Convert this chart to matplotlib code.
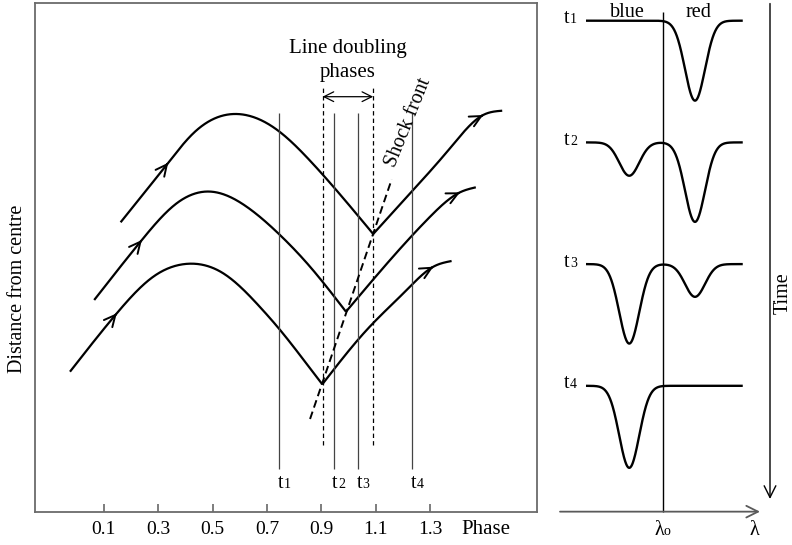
import numpy as np
import matplotlib
matplotlib.use("Agg")
import matplotlib.pyplot as plt

plt.rcParams["font.family"] = ["Liberation Serif", "DejaVu Serif"]

# ---------------- pulsation diagram data ----------------
phase_ticks = [0.1, 0.3, 0.5, 0.7, 0.9, 1.1, 1.3]
phase_tick_labels = ["0.1", "0.3", "0.5", "0.7", "0.9", "1.1", "1.3"]

# Outer shell: ballistic arc up to the shock, then pushed outward again
shell1_arc_phase = [0.162, 0.337, 0.429, 0.589, 0.741, 0.858, 1.090]
shell1_arc_dist = [28.94, 34.90, 37.84, 39.77, 38.10, 35.10, 27.77]
shell1_out_phase = [1.090, 1.237, 1.372, 1.494, 1.564]
shell1_out_dist = [27.77, 32.17, 36.34, 39.67, 40.10]

# Middle shell
shell2_arc_phase = [0.065, 0.240, 0.368, 0.497, 0.625, 0.741, 0.858, 0.990]
shell2_arc_dist = [21.17, 27.17, 30.84, 32.00, 30.50, 27.84, 24.50, 20.00]
shell2_out_phase = [0.990, 1.152, 1.299, 1.409, 1.467]
shell2_out_dist = [20.00, 25.17, 29.50, 31.94, 32.44]

# Inner shell
shell3_arc_phase = [-0.024, 0.148, 0.282, 0.399, 0.539, 0.674, 0.748, 0.858, 0.903]
shell3_arc_dist = [14.00, 19.84, 23.50, 24.77, 23.84, 20.47, 18.17, 14.34, 12.74]
shell3_out_phase = [0.903, 1.066, 1.213, 1.311, 1.378]
shell3_out_dist = [12.74, 18.17, 22.17, 24.50, 25.07]

snapshot_phases = [0.745, 0.945, 1.035, 1.233]
snapshot_names = ["1", "2", "3", "4"]
doubling_phases = [0.904, 1.090]
shock_phase = [0.858, 1.158]
shock_dist = [9.27, 33.24]

# ---------------- line profile data ----------------
snapshot_rows = [0, 1, 2, 3]
blue_depth = [0.0, 0.274, 0.653, 0.674]
red_depth = [0.657, 0.653, 0.269, 0.0]
blue_centre = -1.33
red_centre = 1.30
line_sigma = 0.40
continuum_range = [-3.06, 3.21]

FS = 14.5
GREY = "#5a5a5a"


def natural_spline(x, y):
    """Return a callable natural cubic spline through (x, y)."""
    x = np.asarray(x, float)
    y = np.asarray(y, float)
    n = len(x)
    h = np.diff(x)
    A = np.zeros((n, n))
    r = np.zeros(n)
    A[0, 0] = A[-1, -1] = 1.0
    for i in range(1, n - 1):
        A[i, i - 1] = h[i - 1]
        A[i, i] = 2 * (h[i - 1] + h[i])
        A[i, i + 1] = h[i]
        r[i] = 6 * ((y[i + 1] - y[i]) / h[i] - (y[i] - y[i - 1]) / h[i - 1])
    M = np.linalg.solve(A, r)

    def f(t):
        t = np.atleast_1d(np.asarray(t, float))
        k = np.clip(np.searchsorted(x, t) - 1, 0, n - 2)
        hk = h[k]
        a = (x[k + 1] - t) / hk
        b = (t - x[k]) / hk
        return (a * y[k] + b * y[k + 1]
                + ((a ** 3 - a) * M[k] + (b ** 3 - b) * M[k + 1]) * hk ** 2 / 6)
    return f


def draw_branch(ax, xs, ys, arrow_idx):
    f = natural_spline(xs, ys)
    t = np.linspace(xs[0], xs[-1], 400)
    ax.plot(t, f(t), color="black", lw=1.6, solid_capstyle="butt")
    x0 = xs[arrow_idx]
    eps = 0.004
    tip = (x0, float(f(x0)[0]))
    tail = (x0 - eps, float(f(x0 - eps)[0]))
    ax.annotate("", xy=tip, xytext=tail,
                arrowprops=dict(arrowstyle="->,head_length=0.45,head_width=0.22",
                                lw=1.4, color="black", shrinkA=0, shrinkB=0,
                                mutation_scale=18))


def t_label(ax, x, y, name, big=FS, small=10, dx_small=3.2):
    ax.annotate("t", xy=(x, y), xytext=(0.9, 0), textcoords="offset points",
                ha="center", va="baseline", fontsize=big)
    ax.annotate(name, xy=(x, y), xytext=(dx_small, 0), textcoords="offset points",
                ha="left", va="baseline", fontsize=small)


fig = plt.figure(figsize=(7.92, 5.45), dpi=100)

# ---------------- left panel: shell trajectories ----------------
ax = fig.add_axes([34.7 / 792, 33.3 / 545, 502.0 / 792, 508.9 / 545])
ax.set_xlim(-0.1536, 1.6907)
ax.set_ylim(0, 50.89)
for s in ax.spines.values():
    s.set_color("#6b6b6b")
    s.set_linewidth(1.3)
ax.set_yticks([])
ax.set_xticks(phase_ticks)
ax.set_xticklabels(phase_tick_labels)
ax.tick_params(axis="x", direction="in", length=6, width=1.1, color=GREY,
               pad=6.5, labelsize=FS - 0.5)

shells = [
    (shell1_arc_phase, shell1_arc_dist, shell1_out_phase, shell1_out_dist),
    (shell2_arc_phase, shell2_arc_dist, shell2_out_phase, shell2_out_dist),
    (shell3_arc_phase, shell3_arc_dist, shell3_out_phase, shell3_out_dist),
]
for ap, ad, op, od in shells:
    draw_branch(ax, ap, ad, 1)
    draw_branch(ax, op, od, len(op) - 2)

# snapshot phases
ax.vlines(snapshot_phases, 4.27, 39.87, colors="#444444", lw=0.9)
for ph, nm in zip(snapshot_phases, snapshot_names):
    t_label(ax, ph, 2.37, nm)

# line-doubling interval
ax.vlines(doubling_phases, 6.67, 42.5, colors="black", lw=0.9,
          linestyles=(0, (3.5, 2.5)))
ax.annotate("", xy=(doubling_phases[0], 41.5), xytext=(doubling_phases[1], 41.5),
            arrowprops=dict(arrowstyle="<->,head_length=0.5,head_width=0.25",
                            lw=0.9, color="black", shrinkA=0, shrinkB=0,
                            mutation_scale=14))
mid = 0.5 * (doubling_phases[0] + doubling_phases[1])
ax.text(mid, 45.84, "Line doubling", ha="center", va="baseline", fontsize=FS + 0.5)
ax.text(mid, 43.44, "phases", ha="center", va="baseline", fontsize=FS + 0.5)

# shock front
ax.plot(shock_phase, shock_dist, color="black", lw=1.4, linestyle=(0, (4, 2.2)))
ax.text(1.218, 38.9, "Shock front", rotation=68, ha="center", va="center",
        rotation_mode="anchor", fontsize=FS)

ax.text(-0.0333, 22.32, "Distance from centre", rotation=90, ha="center",
        va="center", fontsize=FS, transform=ax.get_yaxis_transform())
ax.annotate("Phase", xy=(1.503, 0), xycoords=("data", "axes fraction"),
            xytext=(0, -15.8), textcoords="offset points", ha="center",
            va="baseline", fontsize=FS + 0.5, annotation_clip=False)

# ---------------- right panel: line profiles ----------------
bx = fig.add_axes([540 / 792, 0, 252 / 792, 1])
bx.set_xlim(-4.9, 5.18)
bx.set_ylim(4.308, -0.170)
bx.axis("off")

lam = np.linspace(continuum_range[0], continuum_range[1], 600)
for row, bd, rd, nm in zip(snapshot_rows, blue_depth, red_depth, snapshot_names):
    prof = (row
            + bd * np.exp(-0.5 * ((lam - blue_centre) / line_sigma) ** 2)
            + rd * np.exp(-0.5 * ((lam - red_centre) / line_sigma) ** 2))
    bx.plot(lam, prof, color="black", lw=1.7, solid_capstyle="butt")
    t_label(bx, -3.87, row + 0.021, nm, small=10, dx_small=3.0)

bx.vlines(0, -0.074, 4.034, colors="black", lw=1.0)
bx.text(-1.4, -0.033, "blue", ha="center", va="baseline", fontsize=FS)
bx.text(1.43, -0.033, "red", ha="center", va="baseline", fontsize=FS)

# wavelength axis
bx.annotate("", xy=(3.9, 4.034), xytext=(-4.1, 4.034),
            arrowprops=dict(arrowstyle="->,head_length=0.6,head_width=0.3",
                            lw=1.3, color=GREY, shrinkA=0, shrinkB=0,
                            mutation_scale=14))
bx.annotate("λ", xy=(-0.12, 4.226), ha="center", va="baseline", fontsize=FS)
bx.annotate("o", xy=(0.06, 4.226), ha="left", va="baseline", fontsize=10)
bx.text(3.66, 4.226, "λ", ha="center", va="baseline", fontsize=FS)

# time axis
bx.annotate("", xy=(4.3, 3.93), xytext=(4.3, -0.141),
            arrowprops=dict(arrowstyle="->,head_length=0.6,head_width=0.3",
                            lw=1.0, color="black", shrinkA=0, shrinkB=0,
                            mutation_scale=14))
bx.text(4.82, 2.237, "Time", rotation=90, ha="center", va="center",
        fontsize=FS, clip_on=False)

fig.savefig("out.png", dpi=100)
